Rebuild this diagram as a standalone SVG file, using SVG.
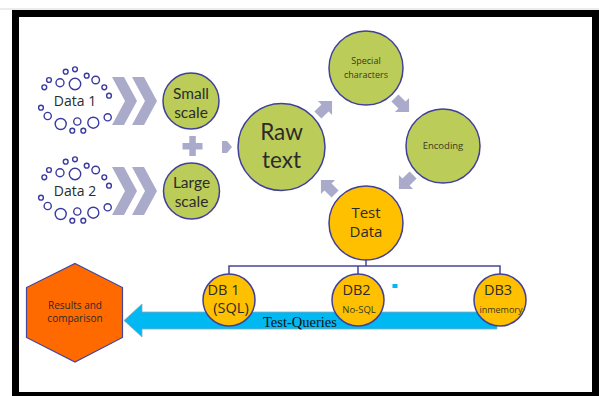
<svg xmlns="http://www.w3.org/2000/svg" xmlns:xlink="http://www.w3.org/1999/xlink" width="599" height="396" viewBox="0 0 599 396">
  <style>
    .green { fill: #bbcc58; stroke: #40409a; stroke-width: 1.5; }
    .gold { fill: #ffc000; stroke: #40409a; stroke-width: 1.5; }
    .dot { fill: #fff; stroke: #3a3aa0; stroke-width: 1.4; }
    .flow { fill: #aaabcb; }
    .link { fill: none; stroke: #45459a; stroke-width: 1.5; }
    .lbl { font-family: "Open Sans", "Noto Sans", sans-serif; fill: #2b2b2b; text-anchor: middle; }
    .tight { font-family: Lato, "Open Sans", sans-serif; }
    .dark { fill: #3a3a1e; }
  </style>
  <defs>
    <!-- ring of small bubbles around a data label -->
    <g id="bubbles">
      <circle class="dot" cx="65.7" cy="71.7" r="2.4"/>
      <circle class="dot" cx="75" cy="69.3" r="2.4"/>
      <circle class="dot" cx="49" cy="80" r="2.4"/>
      <circle class="dot" cx="60" cy="82.7" r="4"/>
      <circle class="dot" cx="75" cy="84" r="5.7"/>
      <circle class="dot" cx="86.7" cy="75.7" r="2.4"/>
      <circle class="dot" cx="95.7" cy="80" r="3.8"/>
      <circle class="dot" cx="44.3" cy="87.3" r="2.4"/>
      <circle class="dot" cx="104.3" cy="87.3" r="2.4"/>
      <circle class="dot" cx="109" cy="95.7" r="2.4"/>
      <circle class="dot" cx="41" cy="107.7" r="2.4"/>
      <circle class="dot" cx="47.7" cy="116" r="3.6"/>
      <circle class="dot" cx="60.7" cy="124" r="5.5"/>
      <circle class="dot" cx="77.3" cy="121.5" r="3.6"/>
      <circle class="dot" cx="72.3" cy="130.7" r="2.4"/>
      <circle class="dot" cx="83.3" cy="130.7" r="2.4"/>
      <circle class="dot" cx="93.3" cy="122.7" r="5.5"/>
      <circle class="dot" cx="107.7" cy="117.3" r="3.6"/>
    </g>
    <polygon id="chevron" class="flow" points="0,0 12,0 25,24 12,48 0,48 13,24"/>
    <!-- block arrow pointing along +x, centred on the origin -->
    <polygon id="blockArrow" class="flow" points="-10,-5 0,-5 0,-10 10,0 0,10 0,5 -10,5"/>
  </defs>

  <!-- frame -->
  <line x1="0" y1="9" x2="599" y2="9" stroke="#d8d8d8" stroke-width="1"/>
  <rect x="15.5" y="13.5" width="580" height="382" fill="#fff" stroke="#000" stroke-width="7"/>

  <!-- data sources -->
  <g id="data1">
    <use xlink:href="#bubbles"/>
    <text class="lbl" x="75" y="106" font-size="14" fill="#3a3a3a">Data 1</text>
    <use xlink:href="#chevron" x="112" y="77"/>
    <use xlink:href="#chevron" x="132" y="77"/>
  </g>
  <g id="data2">
    <use xlink:href="#bubbles" transform="translate(0,90)"/>
    <text class="lbl" x="75" y="196" font-size="14" fill="#3a3a3a">Data 2</text>
    <use xlink:href="#chevron" x="112" y="167"/>
    <use xlink:href="#chevron" x="132" y="167"/>
  </g>

  <g id="small-scale">
    <circle class="green" cx="191" cy="101" r="28"/>
    <text class="lbl tight" x="191" y="98.5" font-size="15.5">Small</text>
    <text class="lbl tight" x="191" y="117.5" font-size="15.5">scale</text>
  </g>
  <g id="large-scale">
    <circle class="green" cx="191.5" cy="191" r="28"/>
    <text class="lbl tight" x="191.5" y="188" font-size="15.5">Large</text>
    <text class="lbl tight" x="191.5" y="207" font-size="15.5">scale</text>
  </g>

  <!-- plus and merge arrow -->
  <g id="plus">
    <rect class="flow" x="182.5" y="143" width="20" height="6.5"/>
    <rect class="flow" x="189.3" y="136" width="6.5" height="20"/>
  </g>
  <polygon id="merge-arrow" class="flow" points="222,141 227,141 232,147 227,153 222,153"/>

  <g id="raw-text">
    <circle class="green" cx="281.5" cy="147" r="43.5"/>
    <text class="lbl tight" x="281.5" y="140" font-size="22.5">Raw</text>
    <text class="lbl tight" x="281.5" y="167.5" font-size="22.5">text</text>
  </g>
  <g id="special-characters">
    <circle class="green" cx="366" cy="68" r="37"/>
    <text class="lbl dark" x="366" y="64" font-size="9">Special</text>
    <text class="lbl dark" x="366" y="78" font-size="9">characters</text>
  </g>
  <g id="encoding">
    <circle class="green" cx="443" cy="146" r="37"/>
    <text class="lbl dark" x="443" y="149" font-size="9.5">Encoding</text>
  </g>

  <!-- cleaning cycle arrows -->
  <g id="cycle-arrows">
    <use xlink:href="#blockArrow" transform="translate(325,108) rotate(-45)"/>
    <use xlink:href="#blockArrow" transform="translate(402,105) rotate(45)"/>
    <use xlink:href="#blockArrow" transform="translate(406,182) rotate(135)"/>
    <use xlink:href="#blockArrow" transform="translate(328,187) rotate(-135)"/>
  </g>

  <g id="test-data">
    <circle class="gold" cx="366" cy="223" r="37"/>
    <text class="lbl" x="366" y="218" font-size="15">Test</text>
    <text class="lbl" x="366" y="237" font-size="15">Data</text>
  </g>

  <!-- tree from test data to databases -->
  <g id="connectors">
    <path class="link" d="M366,260 V266 M229,274 V266 H500 V274 M358,266 V274"/>
  </g>

  <!-- query flow back to results -->
  <g id="test-queries">
    <polygon points="497,312 142,312 142,304 124,320.5 142,337 142,329 497,329" fill="#00b8f2" stroke="#8fa8b8" stroke-width="0.8"/>
    <text x="263" y="327" font-family="'Liberation Serif', serif" font-size="14.5" fill="#111">Test-Queries</text>
  </g>

  <g id="db1">
    <circle class="gold" cx="229" cy="300" r="26"/>
    <text class="lbl" x="223.5" y="295" font-size="14.5">DB 1</text>
    <text class="lbl" x="231" y="313" font-size="14.5">(SQL)</text>
  </g>
  <g id="db2">
    <circle class="gold" cx="358" cy="300" r="26"/>
    <text class="lbl" x="356.5" y="295" font-size="14.5">DB2</text>
    <text class="lbl dark" x="359" y="313" font-size="9.5">No-SQL</text>
  </g>
  <g id="db3">
    <circle class="gold" cx="500" cy="300" r="26"/>
    <text class="lbl" x="498" y="295" font-size="14.5">DB3</text>
    <text class="lbl dark" x="501" y="313" font-size="9">inmemory</text>
  </g>

  <rect x="392.5" y="284" width="5" height="4" fill="#00b8f2"/>

  <g id="results">
    <polygon points="75,263.5 122.5,287.5 122.5,337.5 75,362 26.5,337.5 26.5,287.5" fill="#ff6a00" stroke="#45459a" stroke-width="1.2"/>
    <text class="lbl" x="75" y="309" font-size="10">Results and</text>
    <text class="lbl" x="75" y="322" font-size="10">comparison</text>
  </g>
</svg>
